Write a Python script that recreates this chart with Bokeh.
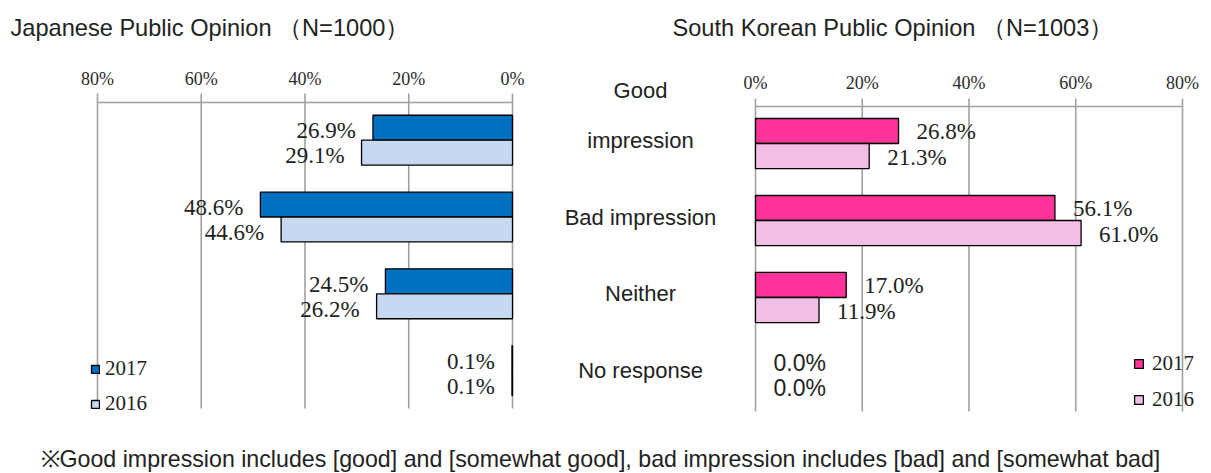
from bokeh.plotting import figure
from bokeh.models import Range1d, ColumnDataSource, Legend, LegendItem
from bokeh.core.properties import value
from bokeh.embed import file_html
from bokeh.resources import INLINE

# ---------------- data ----------------
categories = ["Good impression", "Bad impression", "Neither", "No response"]
category_lines = [["Good", "impression"], ["Bad impression"], ["Neither"], ["No response"]]
years = ["2017", "2016"]
japan_2017 = [26.9, 48.6, 24.5, 0.1]
japan_2016 = [29.1, 44.6, 26.2, 0.1]
korea_2017 = [26.8, 56.1, 17.0, 0.0]
korea_2016 = [21.3, 61.0, 11.9, 0.0]
tick_values = [0, 20, 40, 60, 80]
tick_labels = ["0%", "20%", "40%", "60%", "80%"]
japan_title = "Japanese Public Opinion （N=1000）"
korea_title = "South Korean Public Opinion （N=1003）"
footnote = ("※Good impression includes [good] and [somewhat good], "
            "bad impression includes [bad] and [somewhat bad]")

# ---------------- layout ----------------
W, H = 1211, 473
SANS = "Liberation Sans"
SERIF = "Liberation Serif"
TXT = "#222222"
GRID = "#a0a0a0"
JP_COLORS = ["#0070C0", "#C6D9F1"]
KR_COLORS = ["#FF3399", "#F3BEE6"]
BAR_T = 0.325          # bar thickness in category units


def x_range_from(v0, p0, v1, p1, size):
    k = (p1 - p0) / (v1 - v0)
    return Range1d(start=v0 - p0 / k, end=v0 + (size - p0) / k)


def y_range_from(v0, p0, step, size):
    # p measured from the top; Bokeh range start is the bottom edge
    return Range1d(start=v0 + (size - p0) / step, end=v0 - p0 / step)


p = figure(width=W, height=H, output_backend="svg", toolbar_location=None,
           x_range=Range1d(0, W), y_range=Range1d(H, 0),
           x_axis_type=None, y_axis_type=None, min_border=0)
p.outline_line_color = None
p.grid.visible = False
p.background_fill_color = "white"

p.extra_x_ranges = {
    "jp": x_range_from(0, 512, 80, 97, W),
    "kr": x_range_from(0, 755, 80, 1182, W),
}
p.extra_y_ranges = {
    "jp": y_range_from(0, 139.7, 76.8, H),
    "kr": y_range_from(0, 143.0, 77.0, H),
}

# ---------------- titles / footnote ----------------
p.text(x=[10], y=[27], text=[japan_title], text_font=value(SANS), text_font_size="23.6px",
       text_color=TXT, text_align="left", text_baseline="middle")
p.text(x=[672], y=[27], text=[korea_title], text_font=value(SANS), text_font_size="23.6px",
       text_color=TXT, text_align="left", text_baseline="middle")
p.text(x=[40], y=[458], text=[footnote], text_font=value(SANS), text_font_size="23.2px",
       text_color=TXT, text_align="left", text_baseline="middle")

# ---------------- axes (ticks + grid) ----------------
def draw_axis(name, axis_y, tick_top, grid_bottom, label_y):
    p.segment(x0=tick_values, x1=tick_values, y0=[tick_top] * len(tick_values),
              y1=[grid_bottom] * len(tick_values), line_color=GRID, line_width=1.6,
              x_range_name=name)
    p.segment(x0=[min(tick_values)], x1=[max(tick_values)], y0=[axis_y], y1=[axis_y],
              line_color=GRID, line_width=1.6, x_range_name=name)
    p.text(x=tick_values, y=[label_y] * len(tick_values), text=tick_labels,
           text_font=value(SERIF), text_font_size="18px", text_color="#2a2a2a",
           text_align="center", text_baseline="middle", x_range_name=name)


draw_axis("jp", 102, 93, 408, 78)
draw_axis("kr", 106, 98, 411, 82)

# ---------------- bars ----------------
idx = list(range(len(categories)))


def draw_panel(name, v17, v16, colors, label_align, label_dx, label_dy):
    renderers = []
    for k, (vals, col) in enumerate(zip([v17, v16], colors)):
        off = (k - 0.5) * BAR_T
        src = ColumnDataSource(dict(
            y=[i + off for i in idx],
            v=vals,
            lab=[f"{v:.1f}%" for v in vals],
            lc=["black" if v > 0 else None for v in vals],
            font=[SERIF if v > 0 else SANS for v in vals],
        ))
        r = p.hbar(y="y", left=0, right="v", height=BAR_T, source=src,
                   fill_color=col, line_color="lc", line_width=1.3,
                   x_range_name=name, y_range_name=name)
        p.text(x="v", y="y", text="lab", source=src, text_font="font",
               text_font_size="23px", text_color=TXT, text_align=label_align,
               text_baseline="middle", x_offset=label_dx, y_offset=label_dy,
               x_range_name=name, y_range_name=name)
        renderers.append(r)
    return renderers


jp_r = draw_panel("jp", japan_2017, japan_2016, JP_COLORS, "right", -17, 3)
kr_r = draw_panel("kr", korea_2017, korea_2016, KR_COLORS, "left", 18, 1)

# ---------------- category labels ----------------
cx, cy, ct, coff = [], [], [], []
for i, lines in enumerate(category_lines):
    nl = len(lines)
    for j, line in enumerate(lines):
        cx.append(640)
        cy.append(i)
        ct.append(line)
        coff.append(-50 * (nl - 1 - j))
p.text(x=cx, y=cy, text=ct, y_offset=coff, text_font=value(SANS), text_font_size="22px",
       text_color=TXT, text_align="center", text_baseline="middle", y_range_name="jp")

# ---------------- legends ----------------
def make_legend(rs, loc, glyph, standoff, spacing):
    lg = Legend(items=[LegendItem(label=y, renderers=[r]) for y, r in zip(years, rs)],
                location=loc, orientation="vertical", padding=0, margin=0,
                spacing=spacing, glyph_width=glyph, glyph_height=glyph,
                label_standoff=standoff, label_height=24,
                label_text_font=SERIF, label_text_font_size="21px",
                label_text_color=TXT, label_text_baseline="middle",
                background_fill_alpha=0, border_line_color=None)
    p.add_layout(lg)


make_legend(jp_r, (90, 57), 10, 5, 10)
make_legend(kr_r, (1133, 61), 11, 8, 11)

open("out.html", "w").write(file_html(p, INLINE))
